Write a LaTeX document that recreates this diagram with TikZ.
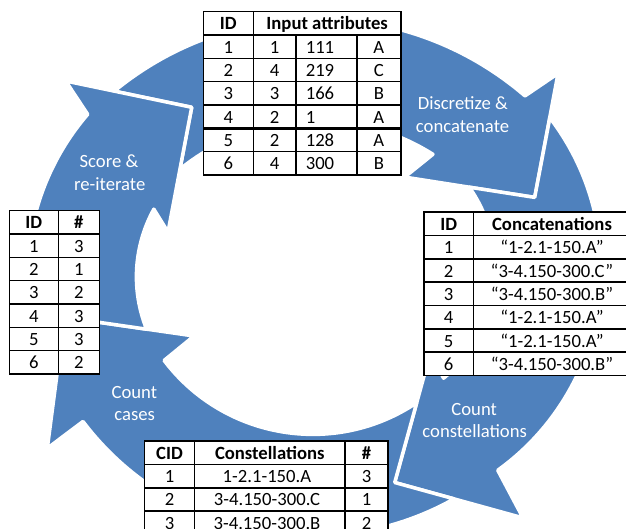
\documentclass[tikz,border=0pt]{standalone}
\usepackage{fontspec}
\setmainfont{Carlito}
\definecolor{arrowblue}{HTML}{4F81BD}
\tikzset{
  arrowshape/.style={fill=arrowblue, draw=white, line width=3.5pt, line join=round},
  lbl/.style={text=white, anchor=base, inner sep=0pt, font=\fontsize{18.67}{22}\selectfont},
  cell/.style={anchor=base, inner sep=0pt, font=\fontsize{18.67}{22}\selectfont},
  hcell/.style={anchor=base, inner sep=0pt, font=\fontsize{18.67}{22}\selectfont\bfseries},
  tline/.style={line width=1.6pt},
  tthick/.style={line width=2.6pt},
}
\begin{document}
\begin{tikzpicture}[x=1pt,y=1pt]
\useasboundingbox (0,0) rectangle (626,-529);
\clip (0,0) rectangle (626,-529);

% arrow 1: Discretize & concatenate  (centre 316.8,-337.6)
\path[arrowshape] ([shift={(316.8,-337.6)}]129.41:319) arc[start angle=129.41,end angle=49.26,radius=319]
  -- (558,-73.5) -- (534.7,-197.4) -- (404.7,-177.1)
  -- ([shift={(316.8,-337.6)}]57.64:217) arc[start angle=57.64,end angle=129.11,radius=217]
  -- (191.7,-107.3) -- cycle;
% arrow 2: Count constellations  (centre 353.1,-268.8)
\path[arrowshape] ([shift={(353.1,-268.8)}]37.5:248) arc[start angle=37.5,end angle=-54.32,radius=248]
  -- (523,-517.9) -- (394.7,-482.5) -- (430.1,-354.2)
  -- ([shift={(353.1,-268.8)}]-50.4:142) arc[start angle=-50.4,end angle=35.08,radius=142]
  -- (534.7,-197.4) -- cycle;
% arrow 3: Count cases  (centre 312.8,-247.9)
\path[arrowshape] ([shift={(312.8,-247.9)}]-60.63:288) arc[start angle=-60.63,end angle=-142.94,radius=288]
  -- (47.3,-448.3) -- (64.5,-317.3) -- (194,-336)
  -- ([shift={(312.8,-247.9)}]-142.88:186.5) arc[start angle=-142.88,end angle=-56.15,radius=186.5]
  -- (394.7,-482.5) -- cycle;
% arrow 4: Score & re-iterate  (centre 276.4,-276.8)
\path[arrowshape] ([shift={(276.4,-276.8)}]-170:249) arc[start angle=-170,end angle=-220.73,radius=249]
  -- (65.7,-81) -- (191.7,-107.3) -- (168,-232)
  -- ([shift={(276.4,-276.8)}]-208.9:140) arc[start angle=-208.9,end angle=-158.02,radius=140]
  -- (64.5,-317.3) -- cycle;

% arrow labels
\node[lbl] (l1a) at (462.8,-109.7) {Discretize \&};
\node[lbl] (l1b) at (462.5,-132.6) {concatenate};
\node[lbl] (l2a) at (474.2,-415.7) {Count};
\node[lbl] (l2b) at (474.7,-437.9) {constellations};
\node[lbl] (l3a) at (134.3,-398) {Count};
\node[lbl] (l3b) at (134.7,-420) {cases};
\node[lbl] (l4a) at (109,-167.7) {Score \&};
\node[lbl] (l4b) at (109.7,-190.6) {re-iterate};

% ---------- top table: input attributes ----------
\fill[white] (203.3,-11.7) rectangle (401,-175);
\foreach \k in {1,2,3,4,6}{
  \draw[tline] (203.3,-11.7-23.33*\k) -- (401,-11.7-23.33*\k);
}
\draw[tthick] (203.3,-128.35) -- (401,-128.35);
\draw[tline] (253.3,-11.7) -- (253.3,-175);
\draw[tline] (296,-35.03) -- (296,-175);
\draw[tline] (356.7,-35.03) -- (356.7,-175);
\draw[tline] (203.3,-11.7) rectangle (401,-175);
\node[hcell] (tah) at (228.3,-29.9) {ID};
\node[hcell] (tbh) at (327.15,-29.9) {Input attributes};
\foreach \i/\a/\b/\c in {1/1/111/A,2/4/219/C,3/3/166/B,4/2/1/A,5/2/128/A,6/4/300/B}{
  \pgfmathsetmacro\yb{-(11.7+23.33*\i+18.2)}
  \node[cell] (ta\i) at (228.3,\yb) {\i};
  \node[cell] (tb\i) at (274.65,\yb) {\a};
  \node[cell,anchor=base west] (tc\i) at (305.6,\yb) {\b};
  \node[cell] (td\i) at (378.85,\yb) {\c};
}

% ---------- right table: concatenations ----------
\fill[white] (424,-212.3) rectangle (630.7,-375.6);
\foreach \k in {1,2,3,4,6}{
  \draw[tline] (424,-212.3-23.33*\k) -- (630.7,-212.3-23.33*\k);
}
\draw[tthick] (424,-328.95) -- (630.7,-328.95);
\draw[tline] (473.3,-212.3) -- (473.3,-375.6);
\draw[tline] (424,-212.3) rectangle (630.7,-375.6);
\node[hcell] (rah) at (448.65,-230.5) {ID};
\node[hcell] (rbh) at (552,-230.5) {Concatenations};
\foreach \i/\s in {1/{“1-2.1-150.A”},2/{“3-4.150-300.C”},3/{“3-4.150-300.B”},4/{“1-2.1-150.A”},5/{“1-2.1-150.A”},6/{“3-4.150-300.B”}}{
  \pgfmathsetmacro\yb{-(212.3+23.33*\i+18.2)}
  \node[cell] (ra\i) at (448.65,\yb) {\i};
  \node[cell] (rb\i) at (552,\yb) {\s};
}

% ---------- left table: scores ----------
\fill[white] (9.3,-210.7) rectangle (99.3,-374.0);
\foreach \k in {1,...,6}{
  \draw[tline] (9.3,-210.7-23.33*\k) -- (99.3,-210.7-23.33*\k);
}
\draw[tline] (58.3,-210.7) -- (58.3,-374.0);
\draw[tline] (9.3,-210.7) rectangle (99.3,-374.0);
\node[hcell] (lah) at (33.8,-228.9) {ID};
\node[hcell] (lbh) at (78.8,-228.9) {\#};
\foreach \i/\n in {1/3,2/1,3/2,4/3,5/3,6/2}{
  \pgfmathsetmacro\yb{-(210.7+23.33*\i+18.2)}
  \node[cell] (la\i) at (33.8,\yb) {\i};
  \node[cell] (lb\i) at (78.8,\yb) {\n};
}

% ---------- bottom table: constellations ----------
\fill[white] (144.5,-441) rectangle (388,-534.4);
\foreach \k in {1,2,3}{
  \draw[tline] (144.5,-441-23.35*\k) -- (388,-441-23.35*\k);
}
\draw[tline] (194.5,-441) -- (194.5,-534.4);
\draw[tline] (345,-441) -- (345,-534.4);
\draw[tline] (144.5,-441) rectangle (388,-534.4);
\node[hcell] (bah) at (169.5,-459.2) {CID};
\node[hcell] (bbh) at (269.75,-459.2) {Constellations};
\node[hcell] (bch) at (366.5,-459.2) {\#};
\foreach \i/\s/\n in {1/1-2.1-150.A/3,2/3-4.150-300.C/1,3/3-4.150-300.B/2}{
  \pgfmathsetmacro\yb{-(441+23.35*\i+18.2)}
  \node[cell] (ba\i) at (169.5,\yb) {\i};
  \node[cell] (bb\i) at (267,\yb) {\s};
  \node[cell] (bc\i) at (366.5,\yb) {\n};
}
\end{tikzpicture}
\end{document}
